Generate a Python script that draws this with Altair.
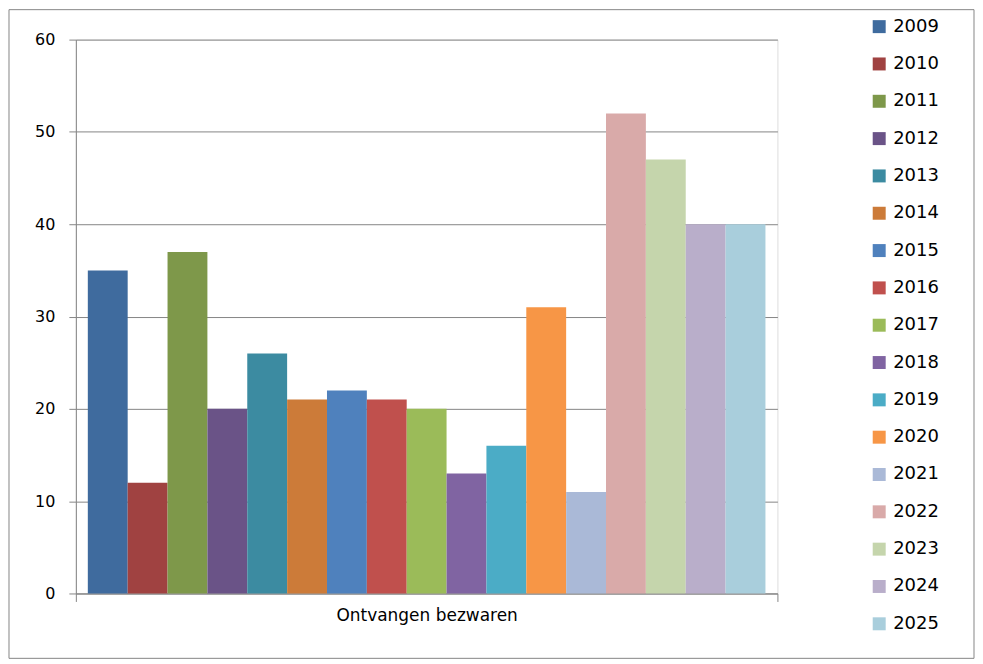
import altair as alt
import pandas as pd

years = ["2009", "2010", "2011", "2012", "2013", "2014", "2015", "2016", "2017",
         "2018", "2019", "2020", "2021", "2022", "2023", "2024", "2025"]
values = [35, 12, 37, 20, 26, 21, 22, 21, 20, 13, 16, 31, 11, 52, 47, 40, 40]
colors = ["#3F6B9E", "#A04241", "#7E984A", "#6A5387", "#3C8BA1", "#CC7B39",
          "#4F81BD", "#C0504D", "#9BBB59", "#8064A2", "#4BACC6", "#F79646",
          "#AAB9D7", "#D9AAA9", "#C5D5AC", "#B9AECA", "#A9CEDC"]
category = "Ontvangen bezwaren"

df = pd.DataFrame({"cat": [category] * len(years), "year": years, "value": values})

FONT = "DejaVu Sans"
GRAY = "#868686"

bars = alt.Chart(df).mark_bar().encode(
    x=alt.X("cat:N", title=None,
            scale=alt.Scale(paddingInner=0, paddingOuter=0),
            axis=alt.Axis(labelAngle=0, tickBand="extent", ticks=True, tickSize=8,
                          tickColor=GRAY, domainColor=GRAY, grid=False,
                          labelFontSize=17, labelFont=FONT, labelColor="black",
                          labelPadding=6, labelLimit=0)),
    xOffset=alt.XOffset("year:N", sort=years,
                        scale=alt.Scale(paddingInner=0, paddingOuter=0.3)),
    y=alt.Y("value:Q", title=None,
            scale=alt.Scale(domain=[0, 60], nice=False),
            axis=alt.Axis(values=[0, 10, 20, 30, 40, 50, 60], tickSize=7,
                          tickColor=GRAY, domainColor=GRAY, gridColor=GRAY,
                          labelFontSize=16, labelFont=FONT, labelColor="black",
                          labelPadding=14)),
    color=alt.Color("year:N", sort=years,
                    scale=alt.Scale(domain=years, range=colors),
                    legend=alt.Legend(title=None, orient="none", legendX=796, legendY=-22,
                                      symbolType="square", symbolSize=169,
                                      symbolStrokeWidth=0, labelFontSize=18,
                                      labelFont=FONT, labelColor="black",
                                      labelOffset=5, rowPadding=19.4, padding=0)),
)

border = alt.Chart(pd.DataFrame({"b": [0]})).mark_rect(
    fill="white", fillOpacity=0, stroke=GRAY, strokeWidth=1
).encode(
    x=alt.value(-67), x2=alt.value(900), y=alt.value(-30), y2=alt.value(620)
)

chart = alt.layer(border, bars).properties(
    width=703, height=555, padding=0
).configure_view(stroke=None).configure(background="white")

chart.save("out.html", embed_options={"renderer": "svg", "actions": False})
